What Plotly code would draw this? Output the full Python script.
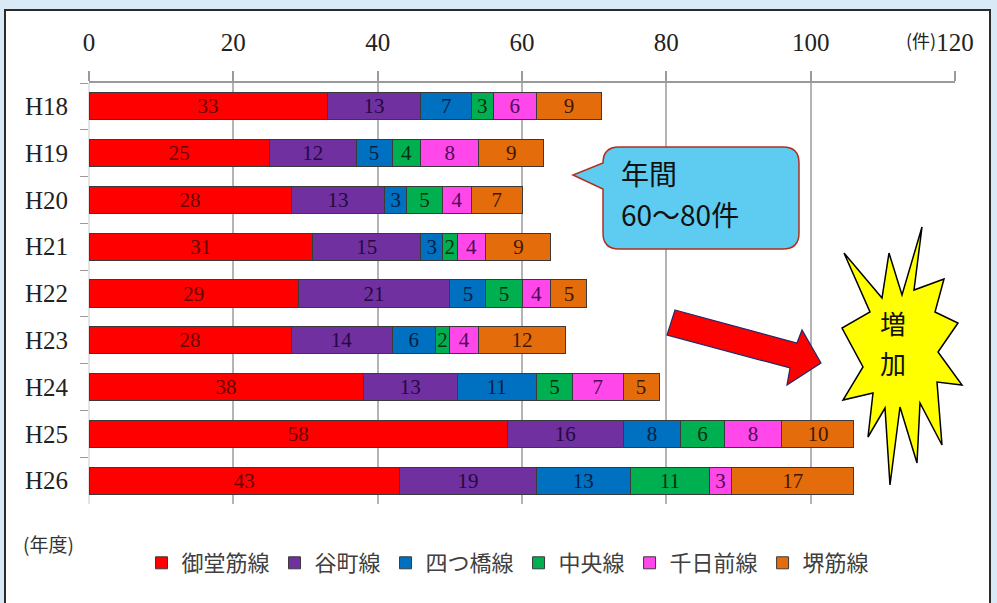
import plotly.graph_objects as go

# ---------------- data ----------------
years = ["H18", "H19", "H20", "H21", "H22", "H23", "H24", "H25", "H26"]
lines = ["御堂筋線", "谷町線", "四つ橋線", "中央線", "千日前線", "堺筋線"]
midosuji = [33, 25, 28, 31, 29, 28, 38, 58, 43]
tanimachi = [13, 12, 13, 15, 21, 14, 13, 16, 19]
yotsubashi = [7, 5, 3, 3, 5, 6, 11, 8, 13]
chuo = [3, 4, 5, 2, 5, 2, 5, 6, 11]
sennichimae = [6, 8, 4, 4, 4, 4, 7, 8, 3]
sakaisuji = [9, 9, 7, 9, 5, 12, 5, 10, 17]
series = [midosuji, tanimachi, yotsubashi, chuo, sennichimae, sakaisuji]
x_ticks = [0, 20, 40, 60, 80, 100, 120]

# ---------------- styles ----------------
colors = ["#ff0000", "#7030a0", "#0070c0", "#00b050", "#ff47ea", "#e46c0a"]
text_colors = ["#6a0000", "#26083f", "#061f45", "#053012", "#4e0a55", "#3e1800"]
W, H = 997, 603
ML, MR, MT, MB = 89, 42, 83, 99
PW, PH = W - ML - MR, H - MT - MB


def px(x):
    return (x - ML) / PW


def py(y):
    return 1 - (y - MT) / PH


def path_from(points, close=True):
    s = "M" + " L".join(f"{px(x):.5f},{py(y):.5f}" for x, y in points)
    return s + (" Z" if close else "")


fig = go.Figure()
for name, vals, c, tc in zip(lines, series, colors, text_colors):
    fig.add_trace(go.Bar(
        y=years, x=vals, name=name, orientation="h",
        marker=dict(color=c, line=dict(color="#3a3a3a", width=1)),
        text=[str(v) for v in vals], textposition="inside",
        insidetextanchor="middle", textangle=0, constraintext="none",
        insidetextfont=dict(family="Liberation Serif", size=21, color=tc),
    ))

shapes = []
# white card
shapes.append(dict(type="rect", xref="paper", yref="paper", layer="below",
                   x0=px(5), x1=px(990), y0=py(640), y1=py(10),
                   fillcolor="white", line=dict(color="#2b2b2b", width=2)))

# callout bubble
r = 16
L_, R_, T_, B_ = 603, 799, 147, 249
cb = (f"M{px(L_+r):.5f},{py(T_):.5f} L{px(R_-r):.5f},{py(T_):.5f} "
      f"Q{px(R_):.5f},{py(T_):.5f} {px(R_):.5f},{py(T_+r):.5f} "
      f"L{px(R_):.5f},{py(B_-r):.5f} Q{px(R_):.5f},{py(B_):.5f} {px(R_-r):.5f},{py(B_):.5f} "
      f"L{px(L_+r):.5f},{py(B_):.5f} Q{px(L_):.5f},{py(B_):.5f} {px(L_):.5f},{py(B_-r):.5f} "
      f"L{px(L_):.5f},{py(189):.5f} L{px(573):.5f},{py(175):.5f} L{px(L_):.5f},{py(163):.5f} "
      f"L{px(L_):.5f},{py(T_+r):.5f} Q{px(L_):.5f},{py(T_):.5f} {px(L_+r):.5f},{py(T_):.5f} Z")
shapes.append(dict(type="path", xref="paper", yref="paper", path=cb,
                   fillcolor="#5ecbf1", line=dict(color="#b03020", width=1.5)))

# red arrow
arrow = [(675, 310), (797, 343), (802, 330), (821, 363), (787, 385), (790, 368), (667, 335)]
shapes.append(dict(type="path", xref="paper", yref="paper", path=path_from(arrow),
                   fillcolor="#ff0000", line=dict(color="#1f2a6b", width=1.2)))

# starburst
burst = [(922, 227), (914, 290), (944, 279), (935, 312), (958, 323), (938, 352),
         (962, 385), (937, 382), (942, 445), (920, 403), (917, 463), (900, 407),
         (890, 485), (885, 408), (868, 437), (873, 393), (843, 400), (863, 367),
         (842, 328), (870, 312), (844, 253), (882, 298), (889, 253), (902, 295)]
shapes.append(dict(type="path", xref="paper", yref="paper", path=path_from(burst),
                   fillcolor="#ffff00", line=dict(color="#000000", width=1.5)))

# faint y axis line
shapes.append(dict(type="line", xref="paper", yref="paper", x0=0, x1=0, y0=0, y1=1,
                   line=dict(color="#c8c8c8", width=1), layer="below"))

annotations = [
    dict(xref="paper", yref="paper", x=px(619), y=py(173), xanchor="left", yanchor="middle",
         text="年間", showarrow=False,
         font=dict(family="Noto Sans CJK JP", size=28, color="#111111")),
    dict(xref="paper", yref="paper", x=px(619), y=py(214), xanchor="left", yanchor="middle",
         text="60～80件", showarrow=False,
         font=dict(family="Noto Sans CJK JP", size=28, color="#111111")),
    dict(xref="paper", yref="paper", x=px(893), y=py(322), xanchor="center", yanchor="middle",
         text="増", showarrow=False,
         font=dict(family="Noto Sans CJK JP", size=26, color="#111111")),
    dict(xref="paper", yref="paper", x=px(893), y=py(362), xanchor="center", yanchor="middle",
         text="加", showarrow=False,
         font=dict(family="Noto Sans CJK JP", size=26, color="#111111")),
    dict(xref="paper", yref="paper", x=px(921), y=py(40), xanchor="center", yanchor="middle",
         text="(件)", showarrow=False,
         font=dict(family="Noto Sans CJK JP", size=18, color="#222222")),
    dict(xref="paper", yref="paper", x=px(48), y=py(543), xanchor="center", yanchor="middle",
         text="(年度)", showarrow=False,
         font=dict(family="Noto Sans CJK JP", size=19, color="#333333")),
]

fig.update_layout(
    width=W, height=H, barmode="stack", bargap=0.42,
    margin=dict(l=ML, r=MR, t=MT, b=MB, pad=0),
    paper_bgcolor="#d9e9f6", plot_bgcolor="rgba(0,0,0,0)",
    shapes=shapes, annotations=annotations,
    showlegend=True,
    legend=dict(orientation="h", x=px(508), y=py(563), xanchor="center", yanchor="middle",
                traceorder="normal", bgcolor="rgba(0,0,0,0)",
                font=dict(family="Noto Sans CJK JP", size=22, color="#404040"),
                itemwidth=30),
    xaxis=dict(side="top", range=[0, 120], tickvals=x_ticks, showgrid=True,
               gridcolor="#b4b4b4", gridwidth=1.5, zeroline=False,
               showline=True, linecolor="#9a9a9a", linewidth=1.5,
               ticks="outside", ticklen=10, tickcolor="#9a9a9a", tickwidth=1.5,
               ticklabelstandoff=10,
               tickfont=dict(family="Liberation Serif", size=25, color="#222222")),
    yaxis=dict(type="category", autorange="reversed", showgrid=False, zeroline=False,
               showline=False, ticks="outside", tickson="boundaries", ticklen=8,
               tickcolor="#9a9a9a", tickwidth=1.2, ticklabelstandoff=20,
               tickfont=dict(family="Liberation Serif", size=25, color="#222222")),
)

fig.write_html("out.html")
